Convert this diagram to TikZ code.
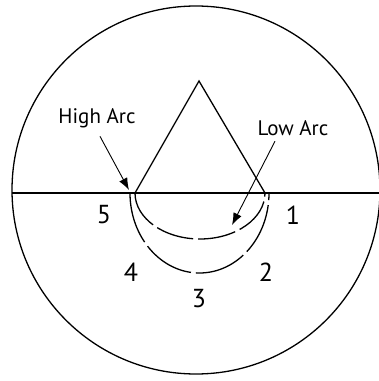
\documentclass[tikz,border=0pt]{standalone}
\usepackage{fontspec}
\setmainfont{PT Sans}
\usepackage{tikz}
\usetikzlibrary{positioning,arrows.meta}

\begin{document}
\begin{tikzpicture}[x=1pt, y=1pt, line width=1.3pt,
    lbl/.style={inner sep=0pt, font=\fontsize{21}{23}\selectfont},
    num/.style={inner sep=0pt, font=\fontsize{26}{28}\selectfont},
    ptr/.style={line width=0.9pt, -{Latex[length=12pt,width=9pt]}},
    lowdash/.style={dash pattern=on 38pt off 5pt},
    highdash/.style={dash pattern=on 52pt off 5pt}]
    \useasboundingbox (0,0) rectangle (379,381);
    \clip (0,0) rectangle (379,381);

    % outer circle and horizon
    \node [draw, circle, minimum size=368pt, inner sep=0pt] (c) at (196,191) {};
    \coordinate (w) at (12,188);
    \coordinate (e) at (379,188);
    \draw (w) -- (e);

    % triangle
    \coordinate (top) at (199,300);
    \coordinate (bl) at (135,188);
    \coordinate (br) at (265,188);
    \draw (bl) -- (top) -- (br);

    % arcs
    \draw [lowdash] (bl) arc [start angle=180, end angle=360, x radius=65, y radius=46];
    \coordinate (hl) at (130,188);
    \draw [highdash] (hl) arc [start angle=180, end angle=360, x radius=69.5, y radius=80];

    % labels
    \node [lbl] (high) at (97,263) {High Arc};
    \node [lbl] (low) at (293,253) {Low Arc};
    \coordinate (hi) at (129,191);
    \coordinate (lo) at (232,156);
    \draw [ptr] (high.south) ++(3,-8) coordinate (hs) -- (hi);
    \draw [ptr] (low.south) ++(-18,-5) coordinate (ls) -- (lo);

    \node [num] (n5) at (104,166) {5};
    \node [num] (n1) at (293,166) {1};
    \node [num] (n4) at (131,109) {4};
    \node [num] (n2) at (266,109) {2};
    \node [num] (n3) at (199,82) {3};
\end{tikzpicture}
\end{document}
